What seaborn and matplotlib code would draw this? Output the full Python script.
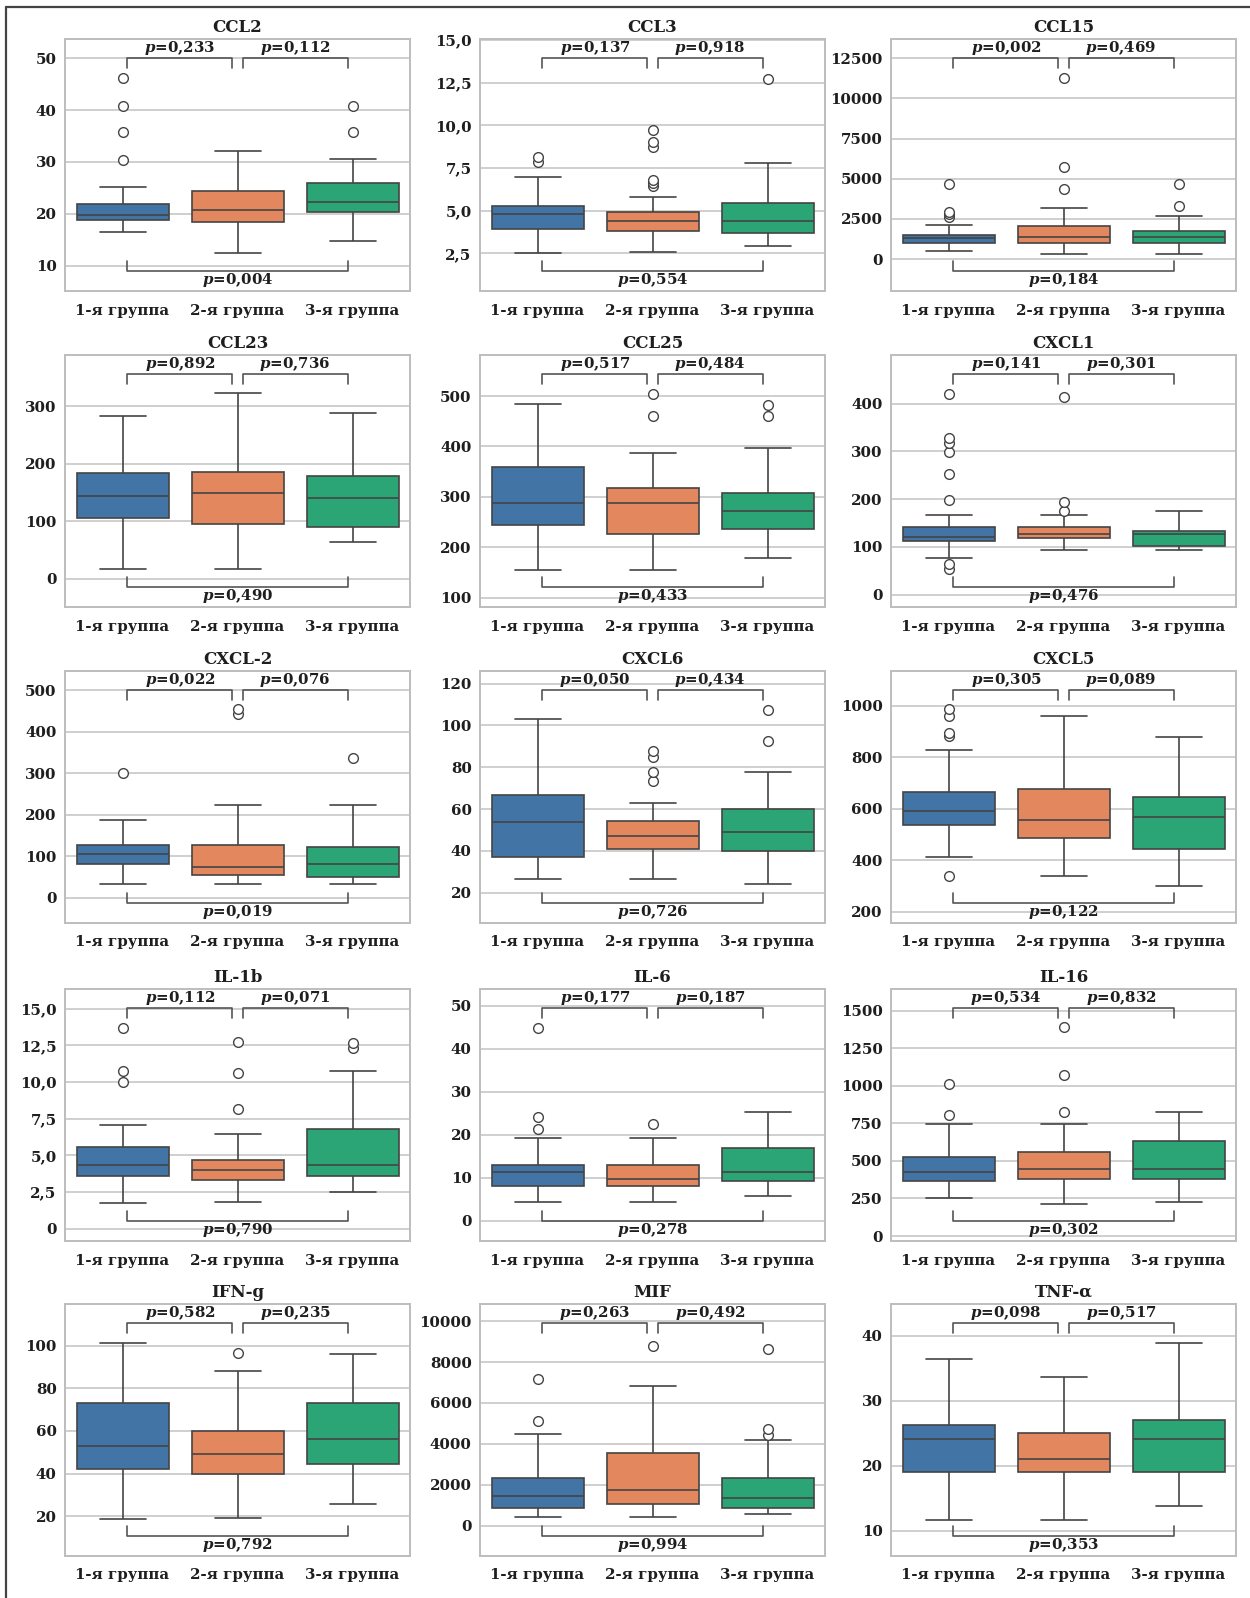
import matplotlib
matplotlib.use("Agg")
import matplotlib.pyplot as plt
from matplotlib.lines import Line2D
import pandas as pd
import seaborn as sns

sns.set_theme(style="whitegrid")
plt.rcParams["font.family"] = ["DejaVu Serif"]
plt.rcParams["font.weight"] = "bold"
plt.rcParams["mathtext.fontset"] = "custom"
plt.rcParams["mathtext.it"] = "DejaVu Serif:italic:bold"
plt.rcParams["mathtext.rm"] = "DejaVu Serif:bold"

groups = ["1-я группа", "2-я группа", "3-я группа"]
colors = ["#4374A6", "#E2875E", "#2BA476"]

titles = ["CCL2", "CCL3", "CCL15", "CCL23", "CCL25", "CXCL1", "CXCL-2", "CXCL6",
          "CXCL5", "IL-1b", "IL-6", "IL-16", "IFN-g", "MIF", "TNF-α"]

# whisker low, Q1, median, Q3, whisker high
group1_box = [
    [16.4, 18.8, 19.75, 21.9, 25.1],
    [2.5, 3.93, 4.79, 5.26, 6.96],
    [542, 978, 1290, 1495, 2137],
    [17.4, 104.5, 143.3, 182.8, 282.6],
    [154.3, 244.3, 286.8, 359, 484.1],
    [76.7, 113, 121.5, 141.6, 166.8],
    [32.8, 81, 105, 127, 188],
    [26.4, 37, 54, 66.6, 102.9],
    [412, 536.4, 591, 666.5, 828.6],
    [1.78, 3.56, 4.34, 5.59, 7.07],
    [4.35, 8.0, 11.35, 13.06, 19.36],
    [252, 366, 428, 526, 747],
    [18.6, 42, 53, 73.2, 101.4],
    [400, 841, 1436, 2327, 4505],
    [11.6, 19, 24.1, 26.3, 36.4],
]
group2_box = [
    [12.4, 18.5, 20.7, 24.4, 32.1],
    [2.58, 3.81, 4.38, 4.92, 5.79],
    [312, 978, 1352, 2037, 3195],
    [17.4, 95.7, 149.7, 185.6, 322],
    [154.3, 225.8, 286.8, 316.6, 387.3],
    [92.8, 118, 127.7, 141.6, 166.8],
    [33, 55.5, 75.5, 127, 223.3],
    [26.6, 40.9, 47.4, 54.1, 62.7],
    [338, 487.3, 557.4, 676.7, 960],
    [1.8, 3.31, 4.01, 4.70, 6.48],
    [4.4, 8.0, 9.64, 13.06, 19.36],
    [214, 377, 446, 557, 747],
    [19, 40, 49.2, 59.8, 88],
    [400, 1040, 1733, 3564, 6831],
    [11.6, 19, 21.0, 25.1, 33.6],
]
group3_box = [
    [14.8, 20.3, 22.2, 26.0, 30.6],
    [2.95, 3.69, 4.38, 5.47, 7.8],
    [312, 978, 1352, 1744, 2697],
    [63.2, 90.5, 140.3, 177.6, 288.3],
    [178.7, 237.1, 272.1, 307.9, 397.3],
    [92.8, 101.8, 127, 133.3, 176],
    [33, 49.7, 82, 123, 223.3],
    [24.1, 40.1, 49.3, 60.2, 77.7],
    [301.5, 444.5, 569, 645.5, 879],
    [2.51, 3.56, 4.34, 6.77, 10.72],
    [5.83, 9.18, 11.35, 16.87, 25.4],
    [229, 377, 446, 631, 825],
    [25.7, 44.4, 56, 73.2, 96.2],
    [550, 841, 1337, 2327, 4208],
    [13.8, 19, 24.1, 27.1, 38.9],
]

group1_out = [
    [30.4, 35.8, 40.8, 46.1], [7.87, 8.16], [2650, 2800, 2950, 4653], [], [],
    [54.4, 63.5, 199, 252, 298.7, 318.3, 328.8, 420], [302], [], [337.7, 882, 896, 960, 987],
    [9.99, 10.74, 13.7], [21.4, 24.1, 44.9], [807, 1012], [], [5100, 7178], [],
]
group2_out = [
    [], [6.47, 6.64, 6.80, 8.71, 9.04, 9.73], [4341, 5711, 11230], [], [460.3, 504],
    [176, 194, 413], [442, 454], [73.4, 77.6, 84.7, 87.8], [],
    [8.14, 10.63, 12.7], [22.5], [825, 1070, 1393], [96.6], [8811], [],
]
group3_out = [
    [35.8, 40.8], [12.73], [3301, 4653], [], [460.3, 481.5],
    [], [336.6], [92.4, 107.6], [],
    [12.34, 12.63], [], [], [], [4455, 4703, 8663], [],
]

p_left = ["0,233", "0,137", "0,002", "0,892", "0,517", "0,141", "0,022", "0,050",
          "0,305", "0,112", "0,177", "0,534", "0,582", "0,263", "0,098"]
p_right = ["0,112", "0,918", "0,469", "0,736", "0,484", "0,301", "0,076", "0,434",
           "0,089", "0,071", "0,187", "0,832", "0,235", "0,492", "0,517"]
p_bottom = ["0,004", "0,554", "0,184", "0,490", "0,433", "0,476", "0,019", "0,726",
            "0,122", "0,790", "0,278", "0,302", "0,792", "0,994", "0,353"]

y_ticks = [
    [10, 20, 30, 40, 50],
    [2.5, 5, 7.5, 10, 12.5, 15],
    [0, 2500, 5000, 7500, 10000, 12500],
    [0, 100, 200, 300],
    [100, 200, 300, 400, 500],
    [0, 100, 200, 300, 400],
    [0, 100, 200, 300, 400, 500],
    [20, 40, 60, 80, 100, 120],
    [200, 400, 600, 800, 1000],
    [0, 2.5, 5, 7.5, 10, 12.5, 15],
    [0, 10, 20, 30, 40, 50],
    [0, 250, 500, 750, 1000, 1250, 1500],
    [20, 40, 60, 80, 100],
    [0, 2000, 4000, 6000, 8000, 10000],
    [10, 20, 30, 40],
]
y_labels = [
    ["10", "20", "30", "40", "50"],
    ["2,5", "5,0", "7,5", "10,0", "12,5", "15,0"],
    ["0", "2500", "5000", "7500", "10000", "12500"],
    ["0", "100", "200", "300"],
    ["100", "200", "300", "400", "500"],
    ["0", "100", "200", "300", "400"],
    ["0", "100", "200", "300", "400", "500"],
    ["20", "40", "60", "80", "100", "120"],
    ["200", "400", "600", "800", "1000"],
    ["0", "2,5", "5,0", "7,5", "10,0", "12,5", "15,0"],
    ["0", "10", "20", "30", "40", "50"],
    ["0", "250", "500", "750", "1000", "1250", "1500"],
    ["20", "40", "60", "80", "100"],
    ["0", "2000", "4000", "6000", "8000", "10000"],
    ["10", "20", "30", "40"],
]
y_limits = [
    (5.1, 53.7), (0.3, 15.06), (-1974, 13683), (-49.4, 388.8), (81.4, 581.5),
    (-26, 502), (-60.3, 546.4), (5.6, 126), (156, 1136), (-0.84, 16.33),
    (-4.67, 53.9), (-33, 1645), (1.3, 119.6), (-1485, 10842), (6.1, 44.9),
]

W, H = 1250, 1598
fig = plt.figure(figsize=(W / 100, H / 100), dpi=100)

col_left = [65, 480, 891]
row_top = [39, 355, 671, 989, 1304]
ax_w, ax_h = 345, 252
line_col = "#444444"
text_col = "#1e1e1e"

for i, title in enumerate(titles):
    r, c = divmod(i, 3)
    ax = fig.add_axes([col_left[c] / W, 1 - (row_top[r] + ax_h) / H, ax_w / W, ax_h / H])

    boxes = [group1_box[i], group2_box[i], group3_box[i]]
    box_df = pd.DataFrame({
        "group": [g for g, b in zip(groups, boxes) for _ in b],
        "value": [v for b in boxes for v in b],
    })
    sns.boxplot(data=box_df, x="group", y="value", hue="group", order=groups,
                hue_order=groups, palette=colors, saturation=1, whis=(0, 100),
                width=0.8, linecolor=line_col, linewidth=1.2, legend=False, ax=ax)

    outs = [group1_out[i], group2_out[i], group3_out[i]]
    out_df = pd.DataFrame({
        "group": [g for g, o in zip(groups, outs) for _ in o],
        "value": [v for o in outs for v in o],
    })
    if len(out_df):
        sns.stripplot(data=out_df, x="group", y="value", order=groups, jitter=False,
                      color="white", edgecolor=line_col, linewidth=1.0, size=7, ax=ax)

    ax.set_xlim(-0.5, 2.5)
    ax.set_ylim(*y_limits[i])
    ax.set_yticks(y_ticks[i])
    ax.set_yticklabels(y_labels[i])
    ax.set_xticks([0, 1, 2])
    ax.set_xticklabels(groups)
    ax.set_xlabel("")
    ax.set_ylabel("")
    ax.yaxis.grid(True, color="#c2c2c2", linewidth=1.1)
    ax.xaxis.grid(False)
    ax.set_axisbelow(True)
    for sp in ax.spines.values():
        sp.set_visible(True)
        sp.set_color("#bdbdbd")
        sp.set_linewidth(1.4)
    ax.tick_params(axis="y", labelsize=10.8, pad=6, length=0, labelcolor=text_col)
    ax.tick_params(axis="x", labelsize=10.8, pad=9, length=0, labelcolor=text_col)
    ax.set_title(title, fontsize=12, fontweight="bold", color=text_col, pad=5)

    tr = ax.get_xaxis_transform()
    bk = dict(transform=tr, color="#555555", linewidth=1.2, clip_on=False)
    ax.plot([0.04, 0.04, 0.95, 0.95], [0.883, 0.925, 0.925, 0.883], **bk)
    ax.plot([1.05, 1.05, 1.96, 1.96], [0.883, 0.925, 0.925, 0.883], **bk)
    ax.plot([0.04, 0.04, 1.96, 1.96], [0.118, 0.08, 0.08, 0.118], **bk)
    tk = dict(transform=tr, ha="center", va="center", fontsize=10.8,
              fontweight="bold", color=text_col)
    ax.text(0.5, 0.963, "$p$=" + p_left[i], **tk)
    ax.text(1.5, 0.963, "$p$=" + p_right[i], **tk)
    ax.text(1.0, 0.045, "$p$=" + p_bottom[i], **tk)

fig.add_artist(Line2D([6 / W, 6 / W], [0, 1 - 7 / H], transform=fig.transFigure,
                      color="#444444", linewidth=1.6))
fig.add_artist(Line2D([6 / W, 1], [1 - 7 / H, 1 - 7 / H], transform=fig.transFigure,
                      color="#444444", linewidth=1.6))

fig.savefig("out.png", dpi=100, facecolor="white")
